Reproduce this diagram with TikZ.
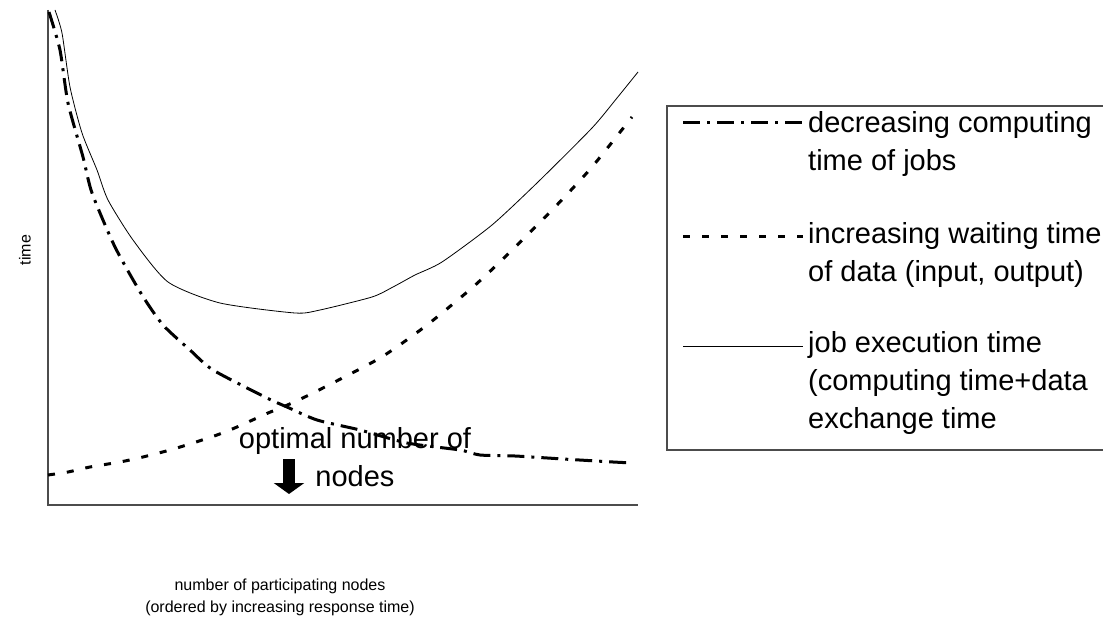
\documentclass[tikz,border=0pt]{standalone}
\usepackage{fontspec}
\setmainfont{Liberation Sans}
\usepackage{tikz}
\usetikzlibrary{arrows.meta,positioning}
\usepackage{tkz-euclide}

\begin{document}
\begin{tikzpicture}[x=1pt,y=1pt,
		axisline/.style={color=black!70,line width=1.2pt},
		comptime/.style={line width=3pt,dash pattern=on 17pt off 7pt on 3pt off 7pt},
		waittime/.style={line width=3pt,dash pattern=on 7pt off 12pt},
		exectime/.style={line width=0.8pt},
		bigtext/.style={font=\fontsize{29}{38}\selectfont,inner sep=0pt},
		smalltext/.style={font=\fontsize{16}{22}\selectfont,inner sep=0pt}]
		\useasboundingbox (0,0) rectangle (1103,625);
		
		% axes
		\tkzDefPoint(48,615){Y}
		\tkzDefPoint(48,120){O}
		\tkzDefPoint(638,120){X}
		\draw[axisline] (Y)--(O)--(X);
		\node[smalltext,rotate=90] (ylab) at (25,375) {time};
		\node[smalltext,align=center,anchor=base] (xlab) at (280,13)
			{number of participating nodes\\(ordered by increasing response time)};
		
		% curves
		\draw[exectime] plot[smooth,tension=0.4] coordinates {(55,615) (62,592) (70,538) (82,492)
			(97,455) (108,425) (133,385) (168,343) (220,322) (295,312) (320,315) (372,328)
			(393,338) (415,350) (442,363) (492,400) (538,443) (592,497) (617,527) (638,553)};
		\draw[comptime] plot[smooth,tension=0.4] coordinates {(49,613) (60,575) (68,522) (83,468)
			(92,432) (115,378) (142,330) (163,300) (190,275) (213,255) (267,227) (287,218)
			(317,205) (360,195) (407,182) (460,175) (480,170) (515,169) (563,166) (613,163) (633,162)};
		\draw[waittime] plot[smooth,tension=0.4] coordinates {(48,150) (68,153) (90,158) (120,163)
			(143,168) (170,175) (193,182) (217,190) (237,198) (268,212) (283,218) (313,232)
			(380,267) (427,300) (473,338) (507,370) (555,418) (592,458) (632,508)};
		
		% optimum
		\tkzDefPoint(289,166){T}
		\tkzDefPoint(289,131){B}
		\draw[line width=12pt,-{Triangle[width=30pt,length=11pt]}] (T)--(B);
		\node[bigtext,align=center,anchor=base] (opt) at (355,139) {optimal number of\\nodes};
		
		% legend
		\tkzDefPoint(1103,519){L1}
		\tkzDefPoint(667,175){L2}
		\tkzDefPoint(1103,175){L3}
		\draw[axisline] (L1) -| (L2) -- (L3);
		
		\tkzDefPoint(683,502){C1}
		\tkzDefPoint(803,502){C2}
		\draw[comptime] (C1)--(C2);
		\node[bigtext,align=left,anchor=base west] (legcomp) at (808,454) {decreasing computing\\time of jobs};
		
		\tkzDefPoint(683,388){W1}
		\tkzDefPoint(803,388){W2}
		\draw[waittime] (W1)--(W2);
		\node[bigtext,align=left,anchor=base west] (legwait) at (808,344) {increasing waiting time\\of data (input, output)};
		
		\tkzDefPoint(683,279){E1}
		\tkzDefPoint(803,279){E2}
		\draw[exectime] (E1)--(E2);
		\node[bigtext,align=left,anchor=base west] (legexec) at (808,197) {job execution time\\(computing time+data\\exchange time};
		
	\end{tikzpicture}
\end{document}
